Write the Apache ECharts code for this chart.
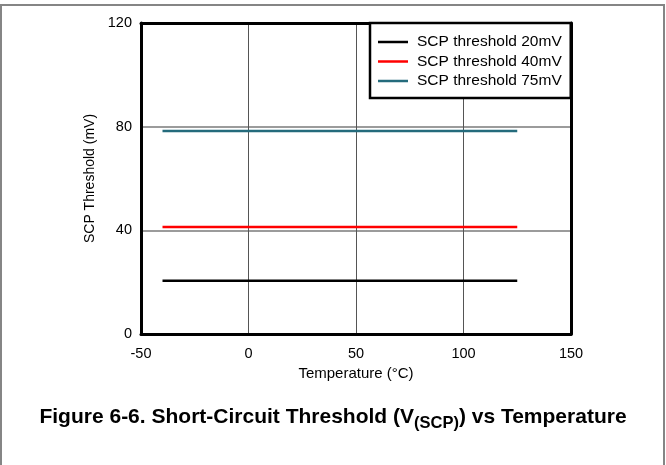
<!DOCTYPE html>
<html>
<head>
<meta charset="utf-8">
<script src="https://cdn.jsdelivr.net/npm/echarts@6/dist/echarts.min.js"></script>
<style>
  html, body { margin: 0; padding: 0; background: #fff; }
  #chart { width: 666px; height: 465px; }
</style>
</head>
<body>
<div id="chart"></div>
<script>
// Temperature sweep points (°C)
const temperatures = [-40, 25, 125];
// SCP threshold readings (mV) for each setting
const scp20 = [20.5, 20.5, 20.5];
const scp40 = [41.3, 41.3, 41.3];
const scp75 = [78.3, 78.3, 78.3];
const seriesNames = ['SCP threshold 20mV', 'SCP threshold 40mV', 'SCP threshold 75mV'];
const seriesColors = ['#000000', '#ff0000', '#246b7c'];
const xTicks = { min: -50, max: 150, step: 50 };
const yTicks = { min: 0, max: 120, step: 40 };

const FONT = '"Liberation Sans", Arial, Helvetica, sans-serif';
const pairs = (vals) => temperatures.map((t, i) => [t, vals[i]]);

// Plain frame axes for the top and right edges of the plot box
const frameX = {
  type: 'value', position: 'top', z: 3,
  min: xTicks.min, max: xTicks.max, interval: xTicks.step,
  axisLine: { show: true, onZero: false, lineStyle: { color: '#000', width: 3 } },
  axisTick: { show: false }, axisLabel: { show: false }, splitLine: { show: false }
};
const frameY = {
  type: 'value', position: 'right', z: 3,
  min: yTicks.min, max: yTicks.max, interval: yTicks.step,
  axisLine: { show: true, onZero: false, lineStyle: { color: '#000', width: 3 } },
  axisTick: { show: false }, axisLabel: { show: false }, splitLine: { show: false }
};

const chart = echarts.init(document.getElementById('chart'), null, { renderer: 'canvas' });

chart.setOption({
  backgroundColor: '#ffffff',
  animation: false,
  textStyle: { fontFamily: FONT },
  title: {
    left: 'center',
    top: 397,
    text: '{a|Figure 6-6. Short-Circuit Threshold (V}{s|(SCP)}{a|) vs Temperature}',
    textStyle: {
      rich: {
        a: { fontFamily: FONT, fontWeight: 'bold', fontSize: 21, color: '#000', lineHeight: 30, verticalAlign: 'middle' },
        s: { fontFamily: FONT, fontWeight: 'bold', fontSize: 16.5, color: '#000', lineHeight: 30, verticalAlign: 'bottom' }
      }
    }
  },
  graphic: [{
    type: 'rect',
    silent: true,
    shape: { x: 1, y: 5, width: 663, height: 480 },
    style: { fill: 'none', stroke: '#858585', lineWidth: 2 }
  }],
  grid: {
    left: 141, right: 95, top: 23, bottom: 131,
    show: false
  },
  legend: {
    orient: 'vertical',
    left: 370,
    top: 23,
    z: 5,
    backgroundColor: '#fff',
    borderColor: '#000',
    borderWidth: 2.5,
    borderRadius: 0,
    padding: [11, 9, 9, 8],
    icon: 'rect',
    itemWidth: 30,
    itemHeight: 2.5,
    itemGap: 3.5,
    data: seriesNames,
    textStyle: { fontFamily: FONT, fontSize: 15.5, color: '#000', lineHeight: 15, padding: [0, 0, 0, 4] }
  },
  xAxis: [{
    type: 'value',
    min: xTicks.min, max: xTicks.max, interval: xTicks.step,
    name: 'Temperature (°C)',
    nameLocation: 'middle',
    nameGap: 30,
    nameTextStyle: { fontFamily: FONT, fontSize: 15, color: '#000' },
    axisLine: { show: true, onZero: false, lineStyle: { color: '#000', width: 3 } },
    axisTick: { show: false },
    axisLabel: { fontFamily: FONT, fontSize: 14.5, color: '#000', margin: 12 },
    splitLine: { show: true, lineStyle: { color: '#555', width: 1 } }
  }, frameX],
  yAxis: [{
    type: 'value',
    min: yTicks.min, max: yTicks.max, interval: yTicks.step,
    name: 'SCP Threshold (mV)',
    nameLocation: 'middle',
    nameGap: 44,
    nameTextStyle: { fontFamily: FONT, fontSize: 14, color: '#000' },
    axisLine: { show: true, onZero: false, lineStyle: { color: '#000', width: 3 } },
    axisTick: { show: false },
    axisLabel: { fontFamily: FONT, fontSize: 14.5, color: '#000', margin: 9 },
    splitLine: { show: true, lineStyle: { color: '#7a7a7a', width: 1.5 } }
  }, frameY],
  series: [scp20, scp40, scp75].map((vals, i) => ({
    name: seriesNames[i],
    type: 'line',
    data: pairs(vals),
    symbol: 'none',
    color: seriesColors[i],
    lineStyle: { color: seriesColors[i], width: 2.5 },
    z: 3
  }))
});
</script>
</body>
</html>
